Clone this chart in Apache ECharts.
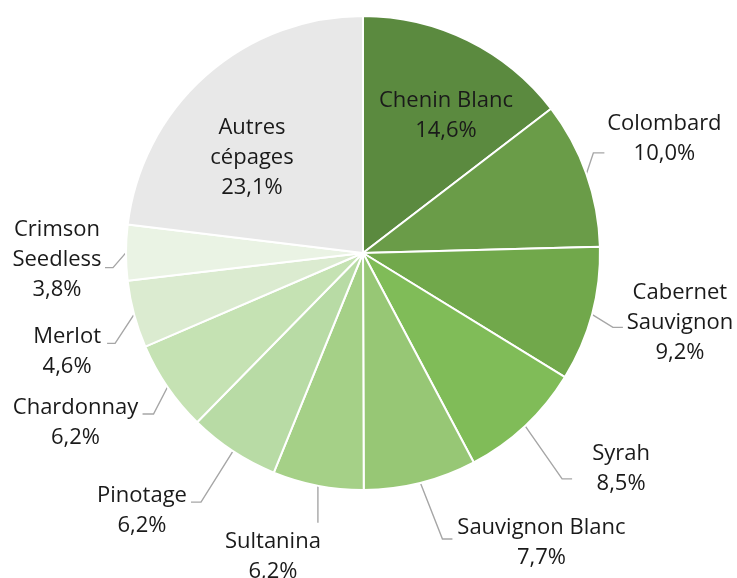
<!DOCTYPE html>
<html>
<head>
<meta charset="utf-8">
<script src="https://cdn.jsdelivr.net/npm/echarts@6/dist/echarts.min.js"></script>
<style>
html,body{margin:0;padding:0;background:#fff;}
#chart{width:737px;height:578px;}
</style>
</head>
<body>
<div id="chart"></div>
<script>
// ---- data ----
const categories = ["Chenin Blanc","Colombard","Cabernet Sauvignon","Syrah","Sauvignon Blanc","Sultanina","Pinotage","Chardonnay","Merlot","Crimson Seedless","Autres cépages"];
const labelNames = ["Chenin Blanc","Colombard","Cabernet\nSauvignon","Syrah","Sauvignon Blanc","Sultanina","Pinotage","Chardonnay","Merlot","Crimson\nSeedless","Autres\ncépages"];
const values = [14.6,10.0,9.2,8.5,7.7,6.2,6.2,6.2,4.6,3.8,23.1];

// ---- styles ----
const colors = ["#5b8a3f","#6a9c48","#71a84b","#80bc58","#97c775","#a5d087","#b8dba5","#c5e2b3","#dbebd0","#eaf3e4","#e8e8e8"];
const CX = 363, CY = 253, R = 237;
// label placement (leader line bend offset from slice edge, horizontal tail, text centre offset from line end)
const placement = {
  "Chenin Blanc":       {inside:true, text:[83,-137]},
  "Autres cépages":     {inside:true, text:[-111,-95]},
  "Colombard":          {bend:[7,-21],  tail:11,  text:[60,-14]},
  "Cabernet Sauvignon": {bend:[21,13],  tail:10,  text:[57,-5]},
  "Syrah":              {bend:[37,53],  tail:10,  text:[49,-10]},
  "Sauvignon Blanc":    {bend:[22,56],  tail:10,  text:[89,4]},
  "Sultanina":          {bend:[0,37],   tail:0,   text:[-45,34]},
  "Pinotage":           {bend:[-32,51], tail:-10, text:[-49,9]},
  "Chardonnay":         {bend:[-14,27], tail:-11, text:[-67,9]},
  "Merlot":             {bend:[-19,29], tail:-8,  text:[-40,8]},
  "Crimson Seedless":   {bend:[-13,15], tail:-8,  text:[-48,-8]}
};

const chart = echarts.init(document.getElementById('chart'), null, {renderer:'canvas'});
const data = categories.map((c,i)=>{
  const inside = !!placement[c].inside;
  return {
    name: c,
    value: values[i],
    itemStyle: {color: colors[i]},
    label: {position: inside ? 'inside' : 'outside'},
    labelLine: {show: !inside}
  };
});

chart.setOption({
  animation: false,
  series: [{
    type: 'pie',
    center: [CX, CY],
    radius: [0, R],
    startAngle: 90,
    clockwise: true,
    avoidLabelOverlap: false,
    data: data,
    itemStyle: {borderColor:'#ffffff', borderWidth: 2},
    label: {
      fontFamily: '"Open Sans", sans-serif',
      fontSize: 22,
      lineHeight: 30,
      color: '#1a1a1a',
      align: 'center',
      formatter: p => labelNames[p.dataIndex] + '\n' + p.value.toFixed(1).replace('.', ',') + '%'
    },
    labelLine: {
      length: 20,
      length2: 10,
      lineStyle: {color:'#a6a6a6', width: 1.4}
    },
    labelLayout: function (p) {
      const pl = placement[categories[p.dataIndex]];
      if (pl.inside) {
        return {x: CX + pl.text[0], y: CY + pl.text[1], align:'center', verticalAlign:'middle'};
      }
      const e = p.labelLinePoints[0];
      const b = [e[0] + pl.bend[0], e[1] + pl.bend[1]];
      const t = [b[0] + pl.tail, b[1]];
      return {
        x: t[0] + pl.text[0],
        y: t[1] + pl.text[1],
        align: 'center',
        verticalAlign: 'middle',
        labelLinePoints: [e, b, t]
      };
    }
  }]
});
</script>
</body>
</html>
